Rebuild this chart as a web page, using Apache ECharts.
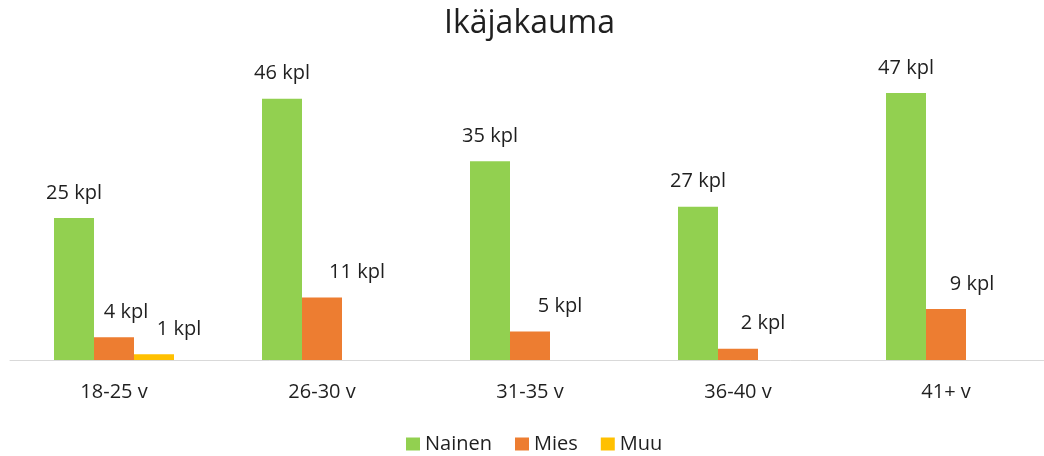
<!DOCTYPE html>
<html>
<head>
<meta charset="utf-8">
<script src="https://cdn.jsdelivr.net/npm/echarts@6/dist/echarts.min.js"></script>
<style>
html,body{margin:0;padding:0;background:#fff;overflow:hidden;}
#chart{width:1050px;height:456px;}
</style>
</head>
<body>
<div id="chart"></div>
<script>
const categories = ['18-25 v', '26-30 v', '31-35 v', '36-40 v', '41+ v'];
const seriesNames = ['Nainen', 'Mies', 'Muu'];
const nainen = [25, 46, 35, 27, 47];
const mies = [4, 11, 5, 2, 9];
const muu = [1, null, null, null, null];
const titleText = 'Ikäjakauma';
const unitSuffix = ' kpl';

// label nudges (horizontal, px) as placed in the reference
const miesLabelShift = [12, 35, 30, 25, 26];
const muuLabelShift = [25, 0, 0, 0, 0];

const colors = ['#92D050', '#ED7D31', '#FFC000'];
const FONT = "'Open Sans', sans-serif";
const TXT = '#1f1f1f';

function withShift(values, shifts) {
  return values.map((v, i) => ({ value: v, label: { offset: [shifts[i], 0] } }));
}

const labelBase = {
  show: true,
  position: 'top',
  distance: 15,
  fontFamily: FONT,
  fontSize: 20,
  color: TXT,
  formatter: p => (p.value == null ? '' : p.value + unitSuffix)
};

const chart = echarts.init(document.getElementById('chart'), null, { renderer: 'canvas' });
chart.setOption({
  animation: false,
  color: colors,
  title: {
    text: titleText,
    left: 439,
    top: 3,
    textStyle: { fontFamily: FONT, fontSize: 32, fontWeight: 'normal', color: TXT }
  },
  legend: {
    top: 429,
    left: 401,
    icon: 'rect',
    itemWidth: 14,
    itemHeight: 13,
    itemGap: 23,
    textStyle: { fontFamily: FONT, fontSize: 20, color: TXT },
    data: seriesNames
  },
  grid: { left: 10, right: 0, top: 76, bottom: 96 },
  xAxis: {
    type: 'category',
    data: categories,
    axisLine: { lineStyle: { color: '#D9D9D9', width: 1 } },
    axisTick: { show: false },
    axisLabel: { fontFamily: FONT, fontSize: 20, color: TXT, margin: 22 }
  },
  yAxis: {
    type: 'value',
    min: 0,
    max: 50,
    show: false,
    splitLine: { show: false }
  },
  series: [
    { name: seriesNames[0], type: 'bar', barWidth: 40, barGap: '0%', data: nainen, label: labelBase },
    { name: seriesNames[1], type: 'bar', barWidth: 40, barGap: '0%', data: withShift(mies, miesLabelShift), label: labelBase },
    { name: seriesNames[2], type: 'bar', barWidth: 40, barGap: '0%', data: withShift(muu, muuLabelShift), label: labelBase }
  ]
});
</script>
</body>
</html>
